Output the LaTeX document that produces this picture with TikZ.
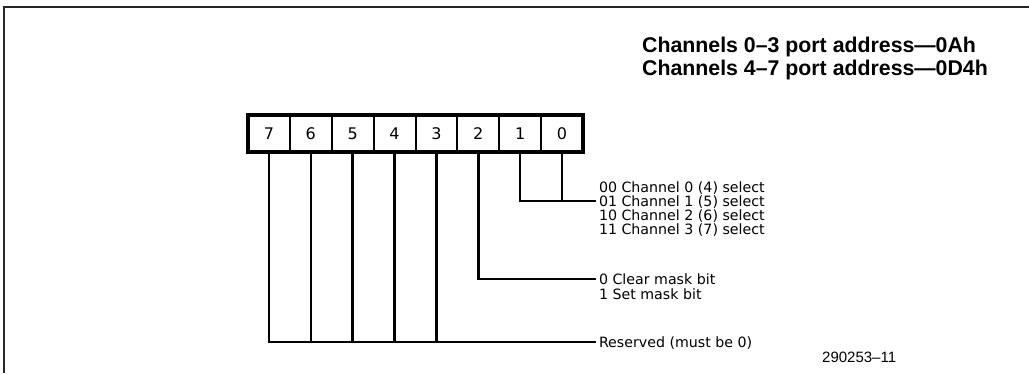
\documentclass[tikz,border=0pt]{standalone}
\usepackage{fontspec}
\setmainfont{DejaVu Sans}
\newfontfamily\arialfont{Liberation Sans}

\tikzset{
    cell/.style={draw, line width=2pt, minimum width=41.875pt, minimum height=37pt,
        inner sep=0pt, outer sep=0pt, font=\fontsize{16}{18}\selectfont},
    wire/.style={line width=2.6pt},
    desc/.style={anchor=west, inner xsep=3pt, inner ysep=0pt, outer sep=0pt,
        text height=10.4pt, text depth=0pt, font=\fontsize{14.2}{16}\selectfont},
    title/.style={anchor=west, inner sep=0pt, font=\arialfont\bfseries\fontsize{21.3}{24}\selectfont}
}

\begin{document}
\begin{tikzpicture}[x=1pt, y=-1pt]
    \useasboundingbox (0,0) rectangle (1029,373);
    % frame
    \draw[line width=2pt, black!85] (4,373) -- (4,7) -- (1029,7);

    % heading
    \node[title] (hdA) at (642, 47) {Channels 0–3 port address—0Ah};
    \node[title] (hdB) at (642, 70) {Channels 4–7 port address—0D4h};

    % register cells
    \foreach \b[count=\i from 0] in {7,6,5,4,3,2,1,0} {
        \node[cell] (b\b) at (248+41.875*\i+20.9375, 133.5) {\b};
    }
    \draw[line width=3.4pt] (b7.north west) rectangle (b0.south east);

    % descriptions
    \node[desc] (sel0) at (596, 187) {00 Channel 0 (4) select};
    \node[desc] (sel1) at (596, 201) {01 Channel 1 (5) select};
    \node[desc] (sel2) at (596, 215) {10 Channel 2 (6) select};
    \node[desc] (sel3) at (596, 229) {11 Channel 3 (7) select};
    \node[desc] (clr) at (596, 279) {0 Clear mask bit};
    \node[desc] (set) at (596, 294) {1 Set mask bit};
    \node[desc] (res) at (596, 342) {Reserved (must be 0)};

    % bit lines
    \draw[wire] (b1.south) |- (sel1.west);
    \draw[wire] (b0.south) -- (b0.south |- sel1.west);
    \draw[wire] (b2.south) |- (clr.west);
    \foreach \b in {3,...,7} {
        \draw[wire] (b\b.south) |- (res.west);
    }

    \node[anchor=west, inner sep=0pt, font=\arialfont\fontsize{15}{17}\selectfont] (fig) at (822, 357) {290253–11};
\end{tikzpicture}
\end{document}
